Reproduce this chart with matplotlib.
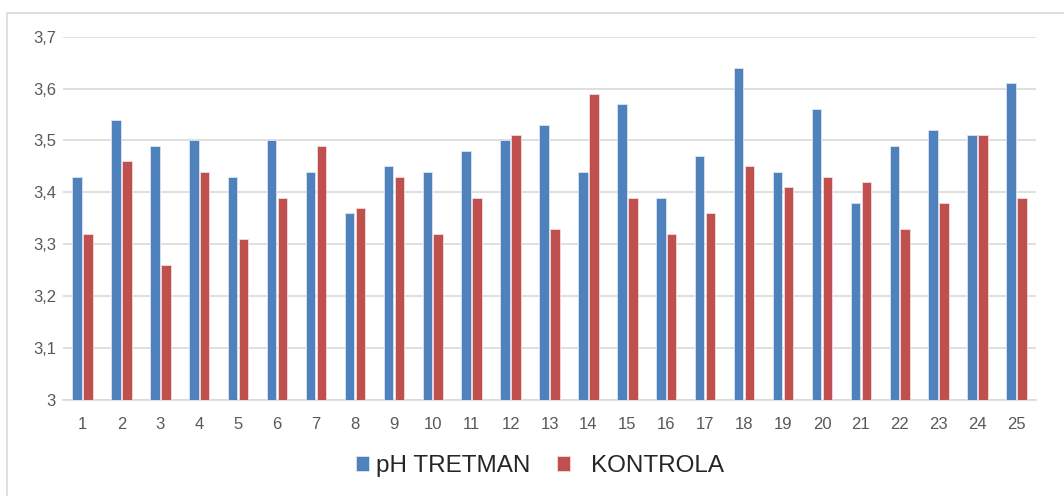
import numpy as np
import matplotlib.pyplot as plt
from matplotlib.patches import Rectangle
from matplotlib.ticker import FuncFormatter

# Data
samples = [str(i) for i in range(1, 26)]
tretman = [3.43, 3.54, 3.49, 3.50, 3.43, 3.50, 3.44, 3.36, 3.45, 3.44, 3.48, 3.50, 3.53,
           3.44, 3.57, 3.39, 3.47, 3.64, 3.44, 3.56, 3.38, 3.49, 3.52, 3.51, 3.61]
kontrola = [3.32, 3.46, 3.26, 3.44, 3.31, 3.39, 3.49, 3.37, 3.43, 3.32, 3.39, 3.51, 3.33,
            3.59, 3.39, 3.32, 3.36, 3.45, 3.41, 3.43, 3.42, 3.33, 3.38, 3.51, 3.39]

blue = "#4f81bd"
red = "#c0504d"
grid_col = "#d9d9d9"
text_col = "#595959"

plt.rcParams['font.family'] = ['Liberation Sans', 'DejaVu Sans']

fig = plt.figure(figsize=(10.64, 4.96), dpi=100)
# outer chart frame
fig.patches.append(Rectangle((7 / 1064, -0.05), 1.1, 1 - 13 / 496 + 0.05, transform=fig.transFigure,
                             fill=False, edgecolor=grid_col, linewidth=1.2))

ax = fig.add_axes([63 / 1064, 1 - 400 / 496, (1036 - 63) / 1064, (400 - 36.7) / 496])

x = np.arange(len(samples))
w = 0.245
b1 = ax.bar(x - 0.14, np.array(tretman) - 3, w, bottom=3, color=blue, edgecolor="#dbe5f1",
            linewidth=0.6, label="pH TRETMAN", zorder=3)
b2 = ax.bar(x + 0.14, np.array(kontrola) - 3, w, bottom=3, color=red, edgecolor="#f2dcdb",
            linewidth=0.6, label="KONTROLA", zorder=3)

ax.set_xlim(-0.5, len(samples) - 0.5)
ax.set_ylim(3, 3.7)
ax.set_yticks(np.arange(3, 3.71, 0.1))
ax.yaxis.set_major_formatter(FuncFormatter(lambda v, p: "3" if abs(v - 3) < 1e-9 else ("%.1f" % v).replace(".", ",")))
ax.set_xticks(x)
ax.set_xticklabels(samples)
ax.yaxis.grid(True, color=grid_col, linewidth=1.2, zorder=0)
for s in ["top", "right", "left"]:
    ax.spines[s].set_visible(False)
ax.spines["bottom"].set_color(grid_col)
ax.spines["bottom"].set_linewidth(1.2)
ax.tick_params(axis="both", length=0, colors=text_col, labelsize=12)
ax.tick_params(axis="x", pad=12)
ax.tick_params(axis="y", pad=5)

# Excel-style legend: two entries with different gaps
leg_kw = dict(loc="center left", frameon=False, fontsize=17.5, handlelength=0.54, handleheight=0.54,
              borderpad=0, borderaxespad=0)
leg1 = fig.legend(handles=[b1], bbox_to_anchor=(356 / 1064, 1 - 466 / 496), handletextpad=0.3, **leg_kw)
leg2 = fig.legend(handles=[b2], bbox_to_anchor=(557 / 1064, 1 - 466 / 496), handletextpad=0.85, **leg_kw)
for leg in (leg1, leg2):
    for t in leg.get_texts():
        t.set_color("#262626")

fig.savefig("out.png", dpi=100)
